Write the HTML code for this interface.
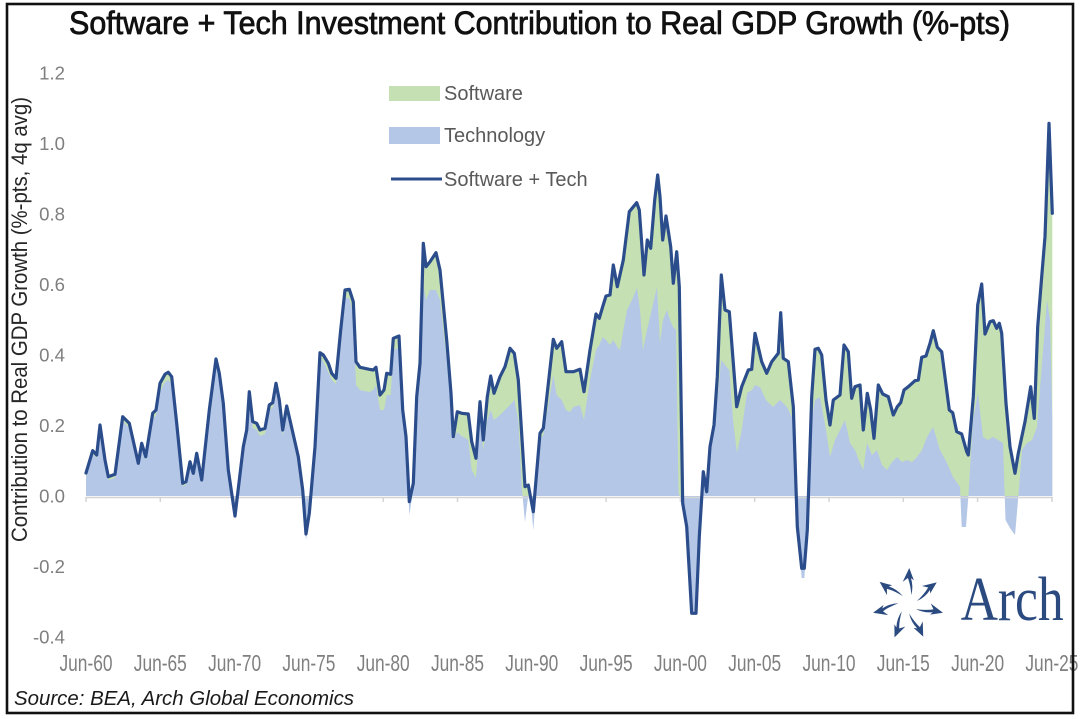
<!DOCTYPE html>
<html>
<head>
<meta charset="utf-8">
<style>
html,body{margin:0;padding:0;background:#fff;}
svg{display:block;}
</style>
</head>
<body>
<svg width="1080" height="719" viewBox="0 0 1080 719" xmlns="http://www.w3.org/2000/svg">
<rect x="0" y="0" width="1080" height="719" fill="#ffffff"/>
<defs>
<clipPath id="pos"><rect x="0" y="0" width="1080" height="496"/></clipPath>
</defs>

<!-- Title -->
<text x="69" y="34" font-family="Liberation Sans, Arial, sans-serif" font-size="32.5" fill="#111" stroke="#111" stroke-width="0.8" textLength="941" lengthAdjust="spacingAndGlyphs">Software + Tech Investment Contribution to Real GDP Growth (%-pts)</text>

<!-- Y axis title -->
<text transform="translate(27,319.5) rotate(-90)" text-anchor="middle" font-family="Liberation Sans, Arial, sans-serif" font-size="22" fill="#262626" textLength="445" lengthAdjust="spacingAndGlyphs">Contribution to Real GDP Growth (%-pts, 4q avg)</text>

<!-- Y labels -->
<g font-family="Liberation Sans, Arial, sans-serif" font-size="18.6" fill="#7f7f7f" text-anchor="end">
<text x="65" y="79.5">1.2</text>
<text x="65" y="150">1.0</text>
<text x="65" y="220.5">0.8</text>
<text x="65" y="291">0.6</text>
<text x="65" y="361.5">0.4</text>
<text x="65" y="432">0.2</text>
<text x="65" y="502.5">0.0</text>
<text x="65" y="573">-0.2</text>
<text x="65" y="643.5">-0.4</text>
</g>

<!-- Green (software) area -->
<path clip-path="url(#pos)" fill="#c5e0b3" d="M86,496 L86,473 92.7,450.7 96.7,455 100,425 105,460 108.3,476.7 115,474.3 122.7,416.7 129.3,423.3 138.3,463.3 141.7,443.3 145.7,456.7 152.7,413.3 156,410 160,383.3 165,374.3 168.3,372.3 171.7,376.7 176.7,423.3 182.7,483.3 186,481.7 190,461.7 193.3,473.3 196.7,453.3 201.7,480 209.3,410 216,359 219.3,373.3 223.3,403.3 228.3,470 235,516 243.3,446.7 246.7,430 249.3,391.7 252.7,421.7 256.7,423.3 260,430 265,428.3 269.3,405 272.7,402.7 276,383.3 279.3,400 282.7,430 286.7,406 290.7,423.3 298.3,456.7 302.7,490 306,534 309.3,513.3 315,446.7 320,352.7 323.3,355 328.3,363.3 331.7,373.3 336,378.3 340.7,330 345,290 349.3,289.3 353.3,301.7 356,361.7 360,367.3 369.3,369.3 373.3,370 376,367.3 380,395 384,390 386.7,373.3 390.7,374.3 393.3,338.3 399,336 402.7,410 406,436.7 409.3,501.7 413.3,483.3 416.7,396.7 420,363.3 423.3,243.3 426,266.7 430,261.7 436,252.7 440,270 446.7,340 451,393.3 453.3,436.7 457.3,411.7 461.7,413.3 468.3,414 471.7,441.7 476,458.3 480,401.7 483.3,440 487.3,396.7 490.7,376 494,393.3 500,376.7 505,366.7 510,348.3 514.3,353.3 518.3,380 525,486.7 528.3,485 533.3,511.7 540,433.3 543.3,428.3 553.3,339.3 556.7,348.3 561.7,341.7 566,371.7 570,371.7 573.3,371.7 580,369.3 584,391.7 590,350 596,314 599.3,318.3 602.7,306.7 606,296 610,295 613.3,265 617.3,286.7 623.3,260 629.3,211.7 636.7,202.7 639.3,210 644,275 647.3,240 650.7,248.3 654.7,200 657.7,175 660,196.7 662.7,240 666,216 670.7,246.7 673.3,283.3 676.7,251.7 679.3,286.7 682.7,503.3 686.7,526.7 691.7,613.3 696,613.3 699.3,536.7 703.3,471.7 706.7,491.7 710,446.7 714,425 717.3,376.7 721.3,275 725,310 729.3,311.7 736.7,406.7 741.7,386.7 748.3,370 751.7,369.3 755,333.3 761.7,361.7 766.7,373.3 771.7,361.7 778.3,353.3 780.7,312.7 783.3,358.3 788.3,361.7 793.3,406.7 797.3,526.7 801.7,568.3 804.3,568.3 807.3,530 811.7,396.7 815,349.3 818.3,348.3 821.7,355 826,400 830,425 833.3,400 840,395 844,345 848.3,351.7 851.7,398.3 855,386.7 860,385 863.3,430 867.3,393.3 870.7,410 874,438.3 878.3,385 882.7,394 888.3,396.7 893.3,415 897.3,406.7 900.7,402.7 904,390 908.3,386.7 915,380.7 918.3,380 921.7,357.3 926,356 930,343.3 933.3,330.7 937.3,347.3 941.7,351.7 949.3,410 952.7,412.7 956.7,431.7 961.7,434 966.7,451.7 968.3,455 973.3,396.7 977.7,305 981.7,284 985,334 990,321.7 993.3,320.7 996.7,328.3 999.3,323.3 1001.7,333.3 1006,403.3 1010,446.7 1015,473.3 1018.3,453.3 1025,421.7 1030.7,386.7 1034.3,418.3 1037.7,326.7 1041.7,276.7 1045,236.7 1049,123.3 1052.3,213.3 L1052.3,496 Z"/>

<!-- Blue (technology) area -->
<path fill="#b4c7e7" d="M86,496 L86,477 92.7,454 96.7,458 100,429 105,463 108.3,480 115,478 122.7,421 129.3,428 138.3,466 141.7,447 145.7,460 152.7,418 156,416 160,392 165,382 168.3,380 171.7,384 176.7,427 182.7,486 186,485 190,465 193.3,476 196.7,457 201.7,483 209.3,415 216,366 219.3,380 223.3,408 228.3,473 235,518 243.3,450 246.7,434 249.3,398 252.7,428 256.7,430 260,436 265,434 269.3,410 272.7,408 276,390 279.3,406 282.7,436 286.7,412 290.7,428 298.3,462 302.7,495 306,540 309.3,518 315,450 320,357 323.3,362 328.3,372 331.7,380 336,384 340.7,338 345,298 349.3,298 353.3,315 356,385 360,390 369.3,392 373.3,390 376,385 380,410 384,410 386.7,395 390.7,395 393.3,350 399,348 402.7,418 406,440 409.3,515 413.3,490 416.7,400 420,370 423.3,285 426,300 430,290 436,290 440,300 446.7,360 451,410 453.3,440 457.3,432 461.7,436 468.3,440 471.7,470 476,478 480,420 483.3,450 487.3,420 490.7,410 494,420 500,415 505,410 510,405 514.3,400 518.3,420 522,490 525,522 528.3,495 531,505 533.3,530 540,440 543.3,435 553.3,375 556.7,395 561.7,400 566,410 570,412 573.3,407 580,405 584,420 590,380 596,350 599.3,345 602.7,337 606,340 610,345 613.3,340 617.3,347 620,350 623.3,330 627,310 632,300 637,288 640,310 643,350 647,330 650,317 654,300 657,287 660,343 663,320 667,310 670,320 673,327 676,330 678.5,493 682.7,503 686.7,527 691.7,613 696,613 699.3,537 703.3,472 706.7,492 710,450 714,430 717.3,400 721.3,360 725,365 729.3,370 733,420 737,453 741.7,430 747,393 752,390 755,385 760,387 766,400 773,407 780,400 787,407 793.3,420 797.3,527 801.7,578 804.3,578 807.3,535 811.7,420 815,400 820,397 826,430 830,457 835,440 840,430 845,420 850,443 855,450 860,463 863.3,470 867,443 872,455 877,450 882,465 887,470 892,462 897,457 902,462 907,460 912,462 917,457 922,450 927,437 933,427 937,440 940,450 947,463 953,477 960,487 961.7,527 966,527 968.3,497 973,420 978,393 983,437 988,440 993,437 998,440 1003,443 1005.5,520 1010,528 1015,535 1018.3,497 1022,450 1027,443 1032,440 1037,427 1042,363 1047,300 1050,320 1052.3,420 L1052.3,496 Z"/>

<!-- Zero axis and ticks -->
<line x1="86" y1="497.5" x2="1053" y2="497.5" stroke="#d4d4d4" stroke-width="1.5"/>
<g stroke="#d4d4d4" stroke-width="1.5">
<line x1="86" y1="497" x2="86" y2="502"/>
<line x1="160.3" y1="497" x2="160.3" y2="502"/>
<line x1="234.6" y1="497" x2="234.6" y2="502"/>
<line x1="308.9" y1="497" x2="308.9" y2="502"/>
<line x1="383.2" y1="497" x2="383.2" y2="502"/>
<line x1="457.5" y1="497" x2="457.5" y2="502"/>
<line x1="531.8" y1="497" x2="531.8" y2="502"/>
<line x1="606.1" y1="497" x2="606.1" y2="502"/>
<line x1="680.4" y1="497" x2="680.4" y2="502"/>
<line x1="754.7" y1="497" x2="754.7" y2="502"/>
<line x1="829" y1="497" x2="829" y2="502"/>
<line x1="903.3" y1="497" x2="903.3" y2="502"/>
<line x1="977.6" y1="497" x2="977.6" y2="502"/>
<line x1="1051.9" y1="497" x2="1051.9" y2="502"/>
</g>

<!-- Software + Tech line -->
<polyline fill="none" stroke="#2c4d8c" stroke-width="3.2" stroke-linejoin="round" stroke-linecap="round" points="86,473 92.7,450.7 96.7,455 100,425 105,460 108.3,476.7 115,474.3 122.7,416.7 129.3,423.3 138.3,463.3 141.7,443.3 145.7,456.7 152.7,413.3 156,410 160,383.3 165,374.3 168.3,372.3 171.7,376.7 176.7,423.3 182.7,483.3 186,481.7 190,461.7 193.3,473.3 196.7,453.3 201.7,480 209.3,410 216,359 219.3,373.3 223.3,403.3 228.3,470 235,516 243.3,446.7 246.7,430 249.3,391.7 252.7,421.7 256.7,423.3 260,430 265,428.3 269.3,405 272.7,402.7 276,383.3 279.3,400 282.7,430 286.7,406 290.7,423.3 298.3,456.7 302.7,490 306,534 309.3,513.3 315,446.7 320,352.7 323.3,355 328.3,363.3 331.7,373.3 336,378.3 340.7,330 345,290 349.3,289.3 353.3,301.7 356,361.7 360,367.3 369.3,369.3 373.3,370 376,367.3 380,395 384,390 386.7,373.3 390.7,374.3 393.3,338.3 399,336 402.7,410 406,436.7 409.3,501.7 413.3,483.3 416.7,396.7 420,363.3 423.3,243.3 426,266.7 430,261.7 436,252.7 440,270 446.7,340 451,393.3 453.3,436.7 457.3,411.7 461.7,413.3 468.3,414 471.7,441.7 476,458.3 480,401.7 483.3,440 487.3,396.7 490.7,376 494,393.3 500,376.7 505,366.7 510,348.3 514.3,353.3 518.3,380 525,486.7 528.3,485 533.3,511.7 540,433.3 543.3,428.3 553.3,339.3 556.7,348.3 561.7,341.7 566,371.7 570,371.7 573.3,371.7 580,369.3 584,391.7 590,350 596,314 599.3,318.3 602.7,306.7 606,296 610,295 613.3,265 617.3,286.7 623.3,260 629.3,211.7 636.7,202.7 639.3,210 644,275 647.3,240 650.7,248.3 654.7,200 657.7,175 660,196.7 662.7,240 666,216 670.7,246.7 673.3,283.3 676.7,251.7 679.3,286.7 682.7,503.3 686.7,526.7 691.7,613.3 696,613.3 699.3,536.7 703.3,471.7 706.7,491.7 710,446.7 714,425 717.3,376.7 721.3,275 725,310 729.3,311.7 736.7,406.7 741.7,386.7 748.3,370 751.7,369.3 755,333.3 761.7,361.7 766.7,373.3 771.7,361.7 778.3,353.3 780.7,312.7 783.3,358.3 788.3,361.7 793.3,406.7 797.3,526.7 801.7,568.3 804.3,568.3 807.3,530 811.7,396.7 815,349.3 818.3,348.3 821.7,355 826,400 830,425 833.3,400 840,395 844,345 848.3,351.7 851.7,398.3 855,386.7 860,385 863.3,430 867.3,393.3 870.7,410 874,438.3 878.3,385 882.7,394 888.3,396.7 893.3,415 897.3,406.7 900.7,402.7 904,390 908.3,386.7 915,380.7 918.3,380 921.7,357.3 926,356 930,343.3 933.3,330.7 937.3,347.3 941.7,351.7 949.3,410 952.7,412.7 956.7,431.7 961.7,434 966.7,451.7 968.3,455 973.3,396.7 977.7,305 981.7,284 985,334 990,321.7 993.3,320.7 996.7,328.3 999.3,323.3 1001.7,333.3 1006,403.3 1010,446.7 1015,473.3 1018.3,453.3 1025,421.7 1030.7,386.7 1034.3,418.3 1037.7,326.7 1041.7,276.7 1045,236.7 1049,123.3 1052.3,213.3"/>

<!-- Legend -->
<rect x="389" y="86" width="51" height="15" fill="#c5e0b3"/>
<rect x="389" y="127" width="51" height="17" fill="#b4c7e7"/>
<line x1="391" y1="179" x2="442" y2="179" stroke="#2c4d8c" stroke-width="3"/>
<g font-family="Liberation Sans, Arial, sans-serif" font-size="20" fill="#595959">
<text x="444" y="100">Software</text>
<text x="444" y="142">Technology</text>
<text x="444" y="186">Software + Tech</text>
</g>

<!-- X labels -->
<g font-family="Liberation Sans, Arial, sans-serif" font-size="23" fill="#7f7f7f" text-anchor="middle">
<text x="86" y="671" textLength="53" lengthAdjust="spacingAndGlyphs">Jun-60</text>
<text x="160.3" y="671" textLength="53" lengthAdjust="spacingAndGlyphs">Jun-65</text>
<text x="234.6" y="671" textLength="53" lengthAdjust="spacingAndGlyphs">Jun-70</text>
<text x="308.9" y="671" textLength="53" lengthAdjust="spacingAndGlyphs">Jun-75</text>
<text x="383.2" y="671" textLength="53" lengthAdjust="spacingAndGlyphs">Jun-80</text>
<text x="457.5" y="671" textLength="53" lengthAdjust="spacingAndGlyphs">Jun-85</text>
<text x="531.8" y="671" textLength="53" lengthAdjust="spacingAndGlyphs">Jun-90</text>
<text x="606.1" y="671" textLength="53" lengthAdjust="spacingAndGlyphs">Jun-95</text>
<text x="680.4" y="671" textLength="53" lengthAdjust="spacingAndGlyphs">Jun-00</text>
<text x="754.7" y="671" textLength="53" lengthAdjust="spacingAndGlyphs">Jun-05</text>
<text x="829" y="671" textLength="53" lengthAdjust="spacingAndGlyphs">Jun-10</text>
<text x="903.3" y="671" textLength="53" lengthAdjust="spacingAndGlyphs">Jun-15</text>
<text x="977.6" y="671" textLength="53" lengthAdjust="spacingAndGlyphs">Jun-20</text>
<text x="1051.9" y="671" textLength="53" lengthAdjust="spacingAndGlyphs">Jun-25</text>
</g>

<!-- Arch logo -->
<g fill="#2b4a80" transform="translate(908,604)">
<path transform="rotate(-88)" d="M9,3 Q19,2 26,-1 L22,-6 L36,0 L24,5 L26,2 Q18,5 9,3 Z"/>
<path transform="rotate(-37)" d="M9,3 Q19,2 26,-1 L22,-6 L36,0 L24,5 L26,2 Q18,5 9,3 Z"/>
<path transform="rotate(14)" d="M9,3 Q19,2 26,-1 L22,-6 L36,0 L24,5 L26,2 Q18,5 9,3 Z"/>
<path transform="rotate(65)" d="M9,3 Q19,2 26,-1 L22,-6 L36,0 L24,5 L26,2 Q18,5 9,3 Z"/>
<path transform="rotate(112)" d="M9,3 Q19,2 26,-1 L22,-6 L36,0 L24,5 L26,2 Q18,5 9,3 Z"/>
<path transform="rotate(166)" d="M9,3 Q19,2 26,-1 L22,-6 L36,0 L24,5 L26,2 Q18,5 9,3 Z"/>
<path transform="rotate(218)" d="M9,3 Q19,2 26,-1 L22,-6 L36,0 L24,5 L26,2 Q18,5 9,3 Z"/>
</g>
<text x="960.7" y="620" font-family="Liberation Serif, Times New Roman, serif" font-size="62" fill="#2b4a80" textLength="103" lengthAdjust="spacingAndGlyphs">Arch</text>

<!-- Source -->
<text x="14" y="705" font-family="Liberation Sans, Arial, sans-serif" font-size="20" font-style="italic" fill="#1a1a1a" textLength="340" lengthAdjust="spacingAndGlyphs">Source: BEA, Arch Global Economics</text>

<!-- Frame -->
<rect x="7" y="4" width="1066" height="709" fill="none" stroke="#111" stroke-width="2.6"/>
</svg>
</body>
</html>
